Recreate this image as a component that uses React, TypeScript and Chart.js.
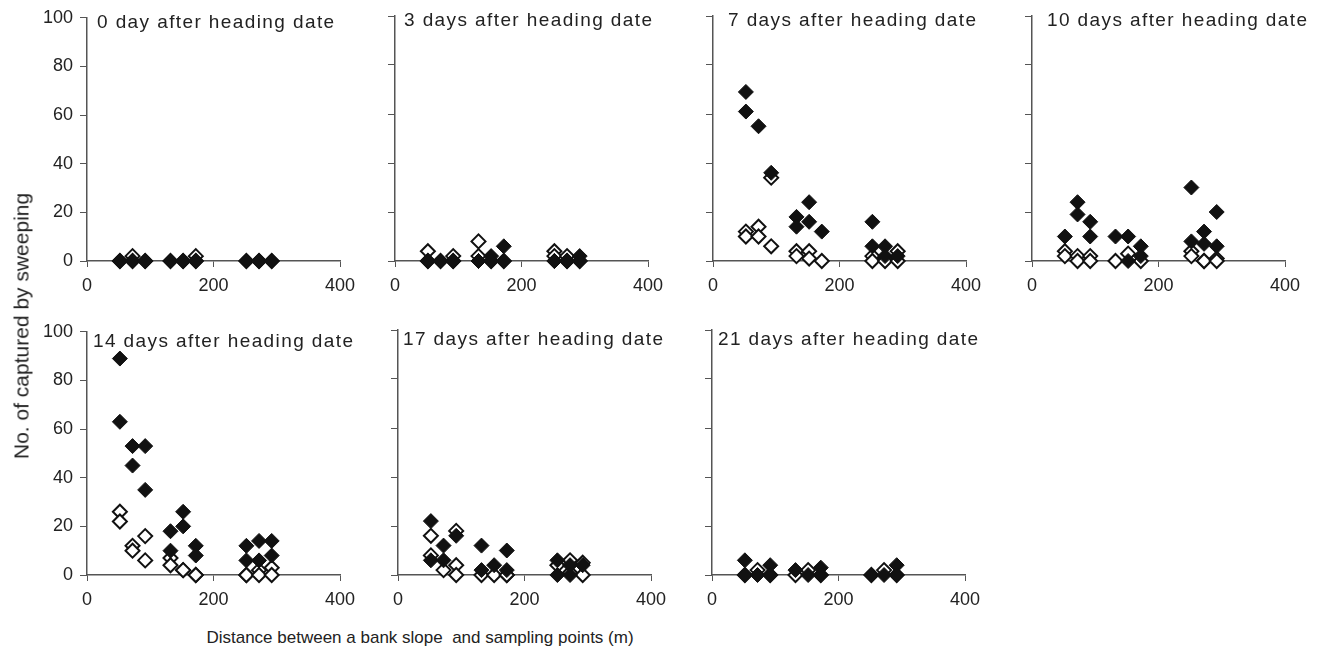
import React, { useEffect, useRef } from "react";
import { Chart, registerables } from "chart.js";

Chart.register(...registerables);

// ---------- data ----------
const DISTANCES = [52, 72, 92, 132, 152, 172, 252, 272, 292];
const X_TICKS = [0, 200, 400];
const Y_TICKS = [0, 20, 40, 60, 80, 100];
const PANEL_TITLES = [
  "0 day after heading date",
  "3 days after heading date",
  "7 days after heading date",
  "10 days after heading date",
  "14 days after heading date",
  "17 days after heading date",
  "21 days after heading date",
];
const Y_AXIS_TITLE = "No. of captured by sweeping";
const X_AXIS_TITLE = "Distance between a bank slope  and sampling points (m)";

// values per distance (one inner list per distance in DISTANCES)
const filledDay0 = [[0, 0], [0, 0], [0, 0], [0, 0], [0, 0], [0, 0], [0, 0], [0, 0], [0, 0]];
const openDay0 = [[0], [2, 0], [0], [0], [0], [2, 0], [0], [0], [0]];
const filledDay3 = [[0, 0], [0, 0], [0, 0], [0, 0], [2, 0], [6, 0], [0, 0], [0, 0], [2, 0]];
const openDay3 = [[4, 0], [0], [2, 0], [8, 2], [0], [0], [4, 2], [2, 0], [0]];
const filledDay7 = [[69, 61], [55], [36], [18, 14], [24, 16], [12], [16, 6], [6, 2], [2]];
const openDay7 = [[12, 10], [14, 10], [34, 6], [4, 2], [4, 1], [0], [2, 0], [1, 0], [4, 0]];
const filledDay10 = [[10], [24, 19], [16, 10], [10], [10, 0], [6, 2], [30, 8], [12, 7], [20, 6]];
const openDay10 = [[4, 2], [2, 0], [2, 0], [0], [3], [0], [4, 2], [0, 0], [1, 0]];
const filledDay14 = [[89, 63], [53, 45], [53, 35], [18, 10], [26, 20], [12, 8], [12, 6], [14, 6], [14, 8]];
const openDay14 = [[26, 22], [12, 10], [16, 6], [7, 4], [2, 2], [0, 0], [0, 0], [2, 0], [3, 0]];
const filledDay17 = [[22, 6], [12, 6], [16], [12, 2], [4], [10, 2], [6, 0], [4, 0], [4]];
const openDay17 = [[16, 8], [2], [18, 4, 0], [0], [0], [0, 0], [4], [6, 1], [5, 0]];
const filledDay21 = [[6, 0], [0], [4, 0], [2], [0], [3, 0], [0], [0], [4, 0]];
const openDay21 = [[0], [2], [0], [0], [2], [0], [0], [2], [0]];

const FILLED_SERIES = [filledDay0, filledDay3, filledDay7, filledDay10, filledDay14, filledDay17, filledDay21];
const OPEN_SERIES = [openDay0, openDay3, openDay7, openDay10, openDay14, openDay17, openDay21];

// ---------- layout / style ----------
const FONT = '"Liberation Sans", Arial, Helvetica, sans-serif';
const AXIS_COLOR = "#555";
const TEXT_COLOR = "#222";
const MARK_COLOR = "#111";
const PLOT_W = 253;
const PLOT_H = 245;
const AXIS_W = 70;
const AXIS_H = 40;
const PAD_T = 16;
const PAD_R = 55;
const PANEL_POS = [
  [87, 16], [395, 16], [713, 16], [1032, 16],
  [87, 330], [398, 330], [712, 330],
];
const TITLE_DX = [10, 9, 15, 15, 6, 5, 6];
const TITLE_DY = [5, 5, 5, 5, 10, 10, 10];

function toPoints(values: number[][]) {
  const pts: { x: number; y: number }[] = [];
  values.forEach((ys, i) => ys.forEach((y) => pts.push({ x: DISTANCES[i], y })));
  return pts;
}

function Panel({ index }: { index: number }) {
  const ref = useRef<HTMLCanvasElement>(null);
  const showY = index === 0 || index === 4;
  useEffect(() => {
    const canvas = ref.current;
    if (!canvas) return;
    const title = PANEL_TITLES[index];
    const titlePlugin = {
      id: "panelTitle" + index,
      afterDraw(chart: any) {
        const { ctx, chartArea } = chart;
        ctx.save();
        ctx.font = `19px ${FONT}`;
        try { (ctx as any).letterSpacing = "1.4px"; } catch (e) {}
        ctx.fillStyle = TEXT_COLOR;
        ctx.textBaseline = "middle";
        ctx.textAlign = "left";
        ctx.fillText(title, chartArea.left + TITLE_DX[index], chartArea.top + TITLE_DY[index]);
        ctx.restore();
      },
    };
    const chart = new Chart(canvas, {
      type: "scatter",
      data: {
        datasets: [
          {
            data: toPoints(FILLED_SERIES[index]),
            pointStyle: "rectRot",
            pointRadius: 7.5,
            backgroundColor: MARK_COLOR,
            borderColor: MARK_COLOR,
            borderWidth: 1,
            clip: false as any,
          },
          {
            data: toPoints(OPEN_SERIES[index]),
            pointStyle: "rectRot",
            pointRadius: 7,
            backgroundColor: "#fff",
            borderColor: MARK_COLOR,
            borderWidth: 2,
            clip: false as any,
          },
        ],
      },
      options: {
        animation: false,
        responsive: false,
        events: [],
        layout: { padding: { left: 0, top: PAD_T, right: PAD_R, bottom: 0 } },
        plugins: { legend: { display: false }, tooltip: { enabled: false }, title: { display: false } },
        scales: {
          x: {
            type: "linear",
            min: 0,
            max: 400,
            afterBuildTicks: (s: any) => { s.ticks = X_TICKS.map((v) => ({ value: v })); },
            afterFit: (s: any) => { s.height = AXIS_H; },
            grid: { drawOnChartArea: false, drawTicks: true, tickLength: 6, color: AXIS_COLOR, lineWidth: 1 },
            border: { display: true, color: AXIS_COLOR, width: 1.5 },
            ticks: { font: { family: FONT, size: 18 }, color: TEXT_COLOR, padding: 8, maxRotation: 0, autoSkip: false },
          },
          y: {
            type: "linear",
            min: 0,
            max: 100,
            afterBuildTicks: (s: any) => { s.ticks = Y_TICKS.map((v) => ({ value: v })); },
            afterFit: (s: any) => { s.width = AXIS_W; },
            grid: { drawOnChartArea: false, drawTicks: true, tickLength: 7, color: AXIS_COLOR, lineWidth: 1 },
            border: { display: true, color: AXIS_COLOR, width: 1.5 },
            ticks: { display: showY, font: { family: FONT, size: 18 }, color: TEXT_COLOR, padding: 7, autoSkip: false },
          },
        },
      } as any,
      plugins: [titlePlugin],
    });
    return () => chart.destroy();
  }, [index]);
  const [pl, pt] = PANEL_POS[index];
  const w = AXIS_W + PLOT_W + PAD_R;
  const h = PAD_T + PLOT_H + AXIS_H;
  return (
    <canvas
      ref={ref}
      width={w}
      height={h}
      style={{ position: "absolute", left: pl - AXIS_W, top: pt - PAD_T, width: w, height: h }}
    />
  );
}

export default function App() {
  return (
    <div
      style={{
        position: "fixed",
        left: 0,
        top: 0,
        width: 1322,
        height: 647,
        background: "#fff",
        overflow: "hidden",
        fontFamily: FONT,
        color: TEXT_COLOR,
      }}
    >
      {PANEL_TITLES.map((_, i) => (
        <Panel key={i} index={i} />
      ))}
      <div
        style={{
          position: "absolute",
          left: 21,
          top: 326,
          transform: "translate(-50%, -50%) rotate(-90deg)",
          whiteSpace: "pre",
          fontSize: 21,
          lineHeight: 1,
        }}
      >
        {Y_AXIS_TITLE}
      </div>
      <div
        style={{
          position: "absolute",
          left: 420,
          top: 637,
          transform: "translate(-50%, -50%)",
          whiteSpace: "pre",
          fontSize: 17,
          lineHeight: 1,
        }}
      >
        {X_AXIS_TITLE}
      </div>
    </div>
  );
}
